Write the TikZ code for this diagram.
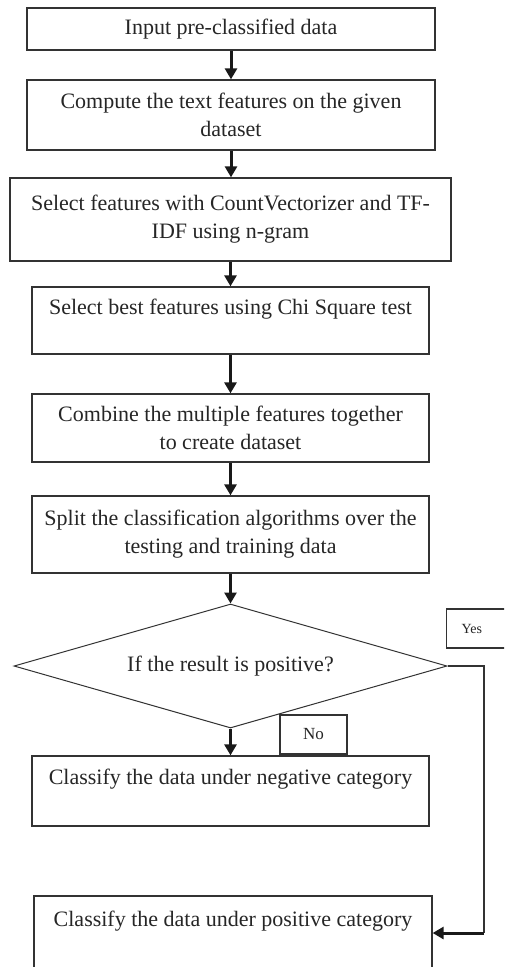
\documentclass[tikz,border=0pt]{standalone}
\usepackage{fontspec}
\setmainfont{Liberation Serif}
\usetikzlibrary{shapes.geometric,arrows.meta}
\begin{document}
\begin{tikzpicture}[x=1pt,y=-1pt,
  box/.style={draw=black!80, line width=1.3pt, fill=white, align=center, inner sep=0pt,
    font=\fontsize{22}{28}\selectfont, text=black!85},
  arr/.style={line width=3pt, draw=black!90, -{Triangle[width=12pt,length=11pt]}},
  thin/.style={line width=1.3pt, draw=black!80},
]
\useasboundingbox (0,0) rectangle (504,967);
\clip (0,0) rectangle (504,967);
\fill[white] (0,0) rectangle (504,967);

\node[box, minimum width=408pt, minimum height=42pt] (b1) at (231,29) {Input pre-classified data};
\node[box, minimum width=408pt, minimum height=70pt] (b2) at (231,115) {Compute the text features on the given\\dataset};
\node[box, minimum width=441pt, minimum height=83pt] (b3) at (230.5,219.5) {Select features with CountVectorizer and TF-\\IDF using n-gram};
\node[box, minimum width=397pt, minimum height=67pt] (b4) at (230.5,320.5) {Select best features using Chi Square test\\\mbox{}};
\node[box, minimum width=397pt, minimum height=68pt] (b5) at (230.5,428) {Combine the multiple features together\\to create dataset};
\node[box, minimum width=397pt, minimum height=77pt] (b6) at (230.5,534.5) {Split the classification algorithms over the\\testing and training data};
\node[box, draw=black!80, line width=1pt, shape=diamond, shape aspect=3.5, minimum width=433pt, minimum height=124pt] (dec) at (230.5,666) {If the result is positive?};
\node[box, minimum width=397pt, minimum height=70pt] (b7) at (230.5,791) {Classify the data under negative category\\\mbox{}};
\node[box, minimum width=398pt, minimum height=74pt] (b8) at (233,933) {Classify the data under positive category\\\mbox{}};

\node[box, anchor=west, minimum height=39pt, inner xsep=15pt, text width=40pt, align=left,
  font=\fontsize{14}{16}\selectfont] (yes) at (446,628.5) {Yes};
\node[box, minimum width=67pt, minimum height=39pt, font=\fontsize{17}{20}\selectfont] (no) at (313.5,734.5) {No};

\draw[arr] (b1.south) -- (b1.south |- b2.north);
\draw[arr] (b2.south) -- (b2.south |- b3.north);
\draw[arr] (b3.south) -- (b3.south |- b4.north);
\draw[arr] (b4.south) -- (b4.south |- b5.north);
\draw[arr] (b5.south) -- (b5.south |- b6.north);
\draw[arr] (b6.south) -- (b6.south |- dec.north);
\draw[arr] (dec.south) -- (dec.south |- b7.north);

\coordinate (c1) at (484,666);
\coordinate (c2) at (c1 |- b8.east);
\draw[thin] (dec.east) -- (c1) -- (c2);
\draw[arr] (c2) -- (b8.east);
\end{tikzpicture}
\end{document}
